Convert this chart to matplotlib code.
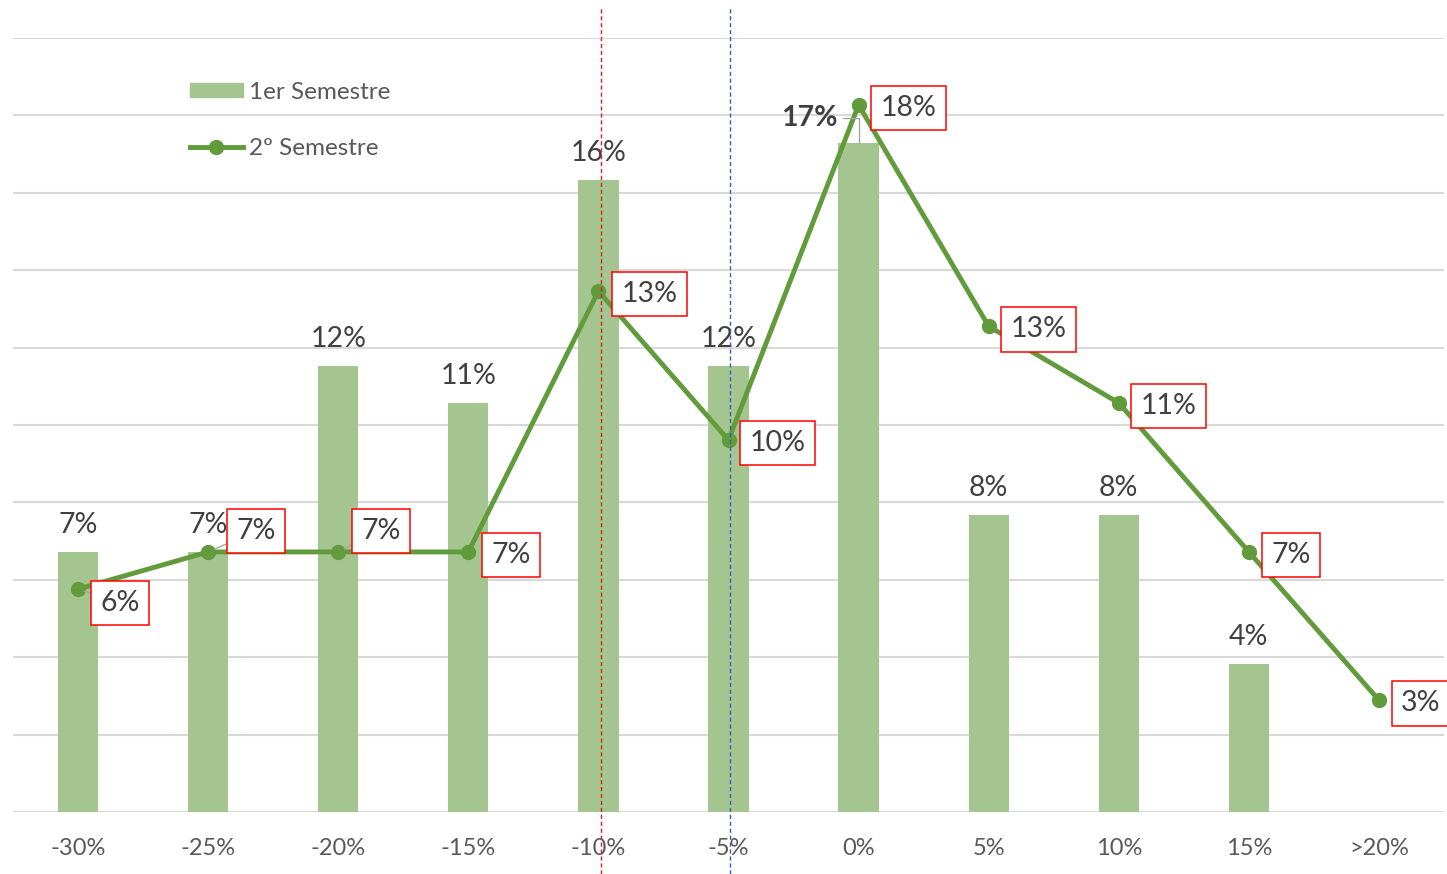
import matplotlib.pyplot as plt
from matplotlib.lines import Line2D
from matplotlib.patches import Patch
import numpy as np

plt.rcParams["font.family"] = ["Lato", "DejaVu Sans"]

# categories and values (percent)
categories = ["-30%", "-25%", "-20%", "-15%", "-10%", "-5%", "0%", "5%", "10%", "15%", ">20%"]
sem1 = [6.72, 6.72, 11.52, 10.57, 16.33, 11.52, 17.29, 7.67, 7.67, 3.82, np.nan]
sem2 = [5.76, 6.72, 6.72, 6.72, 13.46, 9.61, 18.27, 12.55, 10.57, 6.72, 2.89]
ref_red = 4.02
ref_blue = 5.01

# label offsets for the line labels, in pixels (dx, dy)
line_label_offsets = [(42, -14), (48, 21), (43, 21), (43, -3), (51, -3), (49, -3),
                      (50, -3), (50, -3), (50, -3), (42, -3), (42, -3)]
leader_idx = [0, 1, 2]

BAR_COLOR = "#A4C58F"
LINE_COLOR = "#629B3C"
TEXT_COLOR = "#404040"
GRID_COLOR = "#D9D9D9"

fig = plt.figure(figsize=(14.47, 8.74), dpi=100)
ax = fig.add_axes([13 / 1447, 62 / 874, 1431 / 1447, 774 / 874])
x = np.arange(len(categories))
px = 72 / 100  # pixels -> points

ax.bar(x, sem1, width=0.31, color=BAR_COLOR, zorder=2)
ax.plot(x, sem2, color=LINE_COLOR, lw=3.5, marker="o", markersize=10, zorder=3)

ax.set_xlim(-0.5, len(categories) - 0.5)
ax.set_ylim(0, 20)
ax.set_yticks(np.arange(0, 21, 2))
ax.yaxis.grid(True, color=GRID_COLOR, lw=1.5, zorder=0)
ax.set_axisbelow(True)
ax.tick_params(axis="y", left=False, labelleft=False)
ax.tick_params(axis="x", length=0, pad=18.5, labelsize=17, labelcolor="#595959")
ax.set_xticks(x)
ax.set_xticklabels(categories)
for s in ax.spines.values():
    s.set_visible(False)

# bar labels
for i, v in enumerate(sem1):
    if np.isnan(v):
        continue
    if categories[i] == "0%":
        ax.annotate(f"{v:.0f}%", (i, v), xytext=(-49 * px, 25 * px),
                    textcoords="offset points", ha="center", va="center",
                    fontsize=20.5, color=TEXT_COLOR, fontweight="bold",
                    arrowprops=dict(arrowstyle="-", color="#A6A6A6", lw=1,
                                    shrinkA=2, shrinkB=0,
                                    connectionstyle="angle,angleA=0,angleB=90,rad=0"))
    else:
        ax.annotate(f"{v:.0f}%", (i, v), xytext=(0, 27 * px),
                    textcoords="offset points", ha="center", va="center",
                    fontsize=20.5, color=TEXT_COLOR)

# line labels in red boxes
for i, v in enumerate(sem2):
    dx, dy = line_label_offsets[i]
    arrow = None
    if i in leader_idx:
        arrow = dict(arrowstyle="-", color="#A6A6A6", lw=1, shrinkA=0, shrinkB=5)
    ax.annotate(f"{v:.0f}%", (i, v), xytext=(dx * px, dy * px),
                textcoords="offset points", ha="center", va="center",
                fontsize=20.5, color=TEXT_COLOR, zorder=5, annotation_clip=False,
                bbox=dict(boxstyle="square,pad=0.33", fc="white", ec="#FF0000", lw=1.1),
                arrowprops=arrow)

# reference lines
ax.axvline(ref_red, ymin=-0.08, ymax=1.039, color="#E02020", ls=(0, (3, 2)),
           lw=1, clip_on=False, zorder=4)
ax.axvline(ref_blue, ymin=-0.08, ymax=1.039, color="#2F5FC0", ls=(0, (3, 2)),
           lw=1, clip_on=False, zorder=4)

handles = [
    Patch(color=BAR_COLOR, label="1er Semestre"),
    Line2D([0], [0], color=LINE_COLOR, lw=3.5, marker="o", markersize=10, label="2º Semestre"),
]
leg = ax.legend(handles=handles, loc="upper left", bbox_to_anchor=(180 / 1447, 1 - 72 / 874),
                bbox_transform=fig.transFigure, frameon=False, fontsize=17.5,
                handlelength=2.2, handleheight=0.55, handletextpad=0.25, labelspacing=1.45,
                borderaxespad=0)
for t in leg.get_texts():
    t.set_color("#595959")

fig.savefig("out.png", dpi=100)
